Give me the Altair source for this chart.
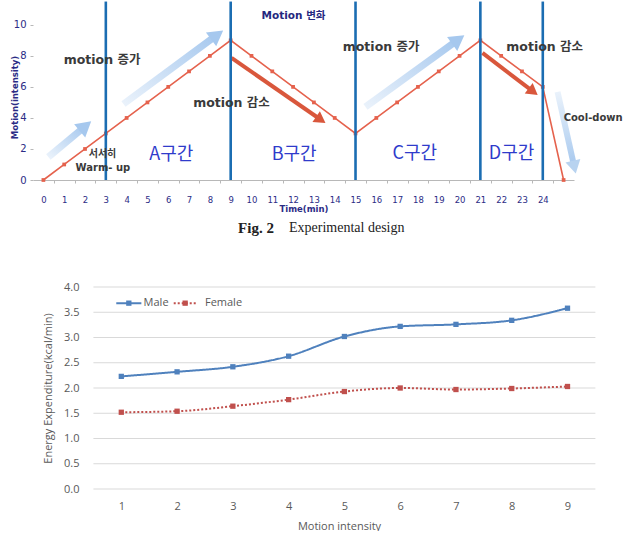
import math
import altair as alt
import pandas as pd

# ---------------- upper panel: exercise protocol ----------------
minutes = list(range(26))
intensity = [0, 1, 2, 3, 4, 5, 6, 7, 8, 9, 8, 7, 6, 5, 4, 3, 4, 5, 6, 7, 8, 9, 8, 7, 6, 0]
phase_bounds = [3, 9, 15, 21, 24]
phase_names = ["A구간", "B구간", "C구간", "D구간"]
phase_name_x = [6.15, 12.05, 17.85, 22.5]
phase_name_y = [1.6, 1.6, 1.65, 1.65]

note_text = ["motion 증가", "motion 감소", "motion 증가", "motion 감소"]
note_x = [2.82, 9.04, 16.23, 24.09]
note_y = [7.74, 4.97, 8.55, 8.55]

warm_text = ["서서히", "Warm- up"]
warm_x = [2.84, 2.86]
warm_y = [1.68, 0.77]

# rising arrows (light blue), cool-down arrow, and falling arrows (red)
up_x1 = [0.24, 3.85, 15.48]
up_y1 = [1.48, 4.90, 4.71]
up_x2 = [2.26, 8.60, 20.19]
up_y2 = [3.74, 9.60, 9.29]
cool_x1 = [24.71]
cool_y1 = [5.68]
cool_x2 = [25.58]
cool_y2 = [0.45]
down_x1 = [9.04, 21.10]
down_y1 = [7.87, 8.19]
down_x2 = [13.55, 23.75]
down_y2 = [3.68, 5.48]

X_DOM = [-0.5, 25.5]
Y_DOM = [0, 11.6]
W_TOP, H_TOP = 541, 180
PX = W_TOP / (X_DOM[1] - X_DOM[0])
PY = H_TOP / (Y_DOM[1] - Y_DOM[0])

NAVY = "#2b2b85"
CJK = "Noto Sans CJK KR"
MIXED = "DejaVu Sans, Noto Sans CJK KR"

xs_top = alt.Scale(domain=X_DOM, nice=False, zero=False)
ys_top = alt.Scale(domain=Y_DOM, nice=False)
x_axis_top = alt.Axis(
    values=list(range(25)), grid=False, domainColor="#b8b8b8", tickColor="#b8b8b8",
    tickSize=3, tickOffset=PX / 2, labelOffset=-PX / 2, labelFont="DejaVu Sans",
    labelFontSize=8.5, labelColor=NAVY, labelPadding=12, title="Time(min)",
    titleFont="DejaVu Sans", titleFontSize=8.5, titleFontWeight="bold",
    titleColor=NAVY, titlePadding=1,
)
y_axis_top = alt.Axis(
    values=[0, 2, 4, 6, 8, 10], grid=False, domain=False, tickColor="#b8b8b8",
    tickSize=3, labelFont="DejaVu Sans", labelFontSize=10, labelColor=NAVY,
    labelPadding=4, title="Motion(intensity)", titleFont="DejaVu Sans",
    titleFontSize=8.5, titleFontWeight="bold", titleColor=NAVY,
    titleAngle=270, titleBaseline="middle", titleX=-18.6, titleY=97,
)
TX = alt.X("x:Q", scale=xs_top, axis=x_axis_top)
TY = alt.Y("y:Q", scale=ys_top, axis=y_axis_top)


def arrow_frames(x1, y1, x2, y2, head_len):
    shafts, heads = [], []
    for a, b, c, d in zip(x1, y1, x2, y2):
        dxp = (c - a) * PX
        dyp = -(d - b) * PY
        n = math.hypot(dxp, dyp)
        ux, uy = dxp / n, dyp / n
        hx = c - (head_len / 2) * ux / PX
        hy = d + (head_len / 2) * uy / PY
        ang = math.degrees(math.atan2(dyp, dxp)) % 360
        shafts.append({"x": a, "y": b, "x2": hx, "y2": hy})
        heads.append({"x": hx, "y": hy, "angle": ang})
    return pd.DataFrame(shafts), pd.DataFrame(heads)


up_shaft, up_head = arrow_frames(up_x1, up_y1, up_x2, up_y2, 13)
cool_shaft, cool_head = arrow_frames(cool_x1, cool_y1, cool_x2, cool_y2, 12)
dn_shaft, dn_head = arrow_frames(down_x1, down_y1, down_x2, down_y2, 11)

protocol = pd.DataFrame({"x": minutes, "y": intensity})
bounds_df = pd.DataFrame({"x": phase_bounds, "y": [0] * 5, "y2": [11.5] * 5})

PALE, SKY = "#eaf2fb", "#a6c8ee"
rise_fade = alt.LinearGradient(
    gradient="linear", x1=0, y1=1, x2=1, y2=0,
    stops=[alt.GradientStop(offset=0, color=PALE), alt.GradientStop(offset=1, color=SKY)],
)
fall_fade = alt.LinearGradient(
    gradient="linear", x1=0, y1=0, x2=0, y2=1,
    stops=[alt.GradientStop(offset=0, color=PALE), alt.GradientStop(offset=1, color=SKY)],
)

up_arrow_shafts = alt.Chart(up_shaft).mark_rule(
    stroke=rise_fade, strokeWidth=7, strokeCap="butt"
).encode(x=TX, y=TY, x2="x2:Q", y2="y2:Q")
up_arrow_heads = alt.Chart(up_head).mark_point(
    shape="triangle-right", filled=True, size=300, color=SKY, opacity=1
).encode(x=TX, y=TY, angle=alt.Angle("angle:Q", scale=None))
cool_arrow_shaft = alt.Chart(cool_shaft).mark_rule(
    stroke=fall_fade, strokeWidth=6, strokeCap="butt"
).encode(x=TX, y=TY, x2="x2:Q", y2="y2:Q")
cool_arrow_head = alt.Chart(cool_head).mark_point(
    shape="triangle-right", filled=True, size=230, color="#b8d3f0", opacity=1
).encode(x=TX, y=TY, angle=alt.Angle("angle:Q", scale=None))
dn_arrow_shafts = alt.Chart(dn_shaft).mark_rule(
    color="#d9573c", strokeWidth=4, strokeCap="butt"
).encode(x=TX, y=TY, x2="x2:Q", y2="y2:Q")
dn_arrow_heads = alt.Chart(dn_head).mark_point(
    shape="triangle-right", filled=True, size=170, color="#d9573c", opacity=1
).encode(x=TX, y=TY, angle=alt.Angle("angle:Q", scale=None))

protocol_line = alt.Chart(protocol).mark_line(
    color="#e5624d", strokeWidth=1.6,
    point=alt.OverlayMarkDef(shape="square", size=14, filled=True, color="#e5624d"),
).encode(x=TX, y=TY)

phase_rules = alt.Chart(bounds_df).mark_rule(color="#1b6db2", strokeWidth=2.6).encode(
    x=TX, y=TY, y2="y2:Q"
)

phase_labels = alt.Chart(
    pd.DataFrame({"x": phase_name_x, "y": phase_name_y, "label": phase_names})
).mark_text(font=CJK, fontSize=18, color="#2f3bcb").encode(x=TX, y=TY, text="label:N")

notes = alt.Chart(
    pd.DataFrame({"x": note_x, "y": note_y, "label": note_text})
).mark_text(font=MIXED, fontSize=12.5, fontWeight="bold", color="#3a3a3a").encode(
    x=TX, y=TY, text="label:N"
)

warm = alt.Chart(
    pd.DataFrame({"x": warm_x, "y": warm_y, "label": warm_text})
).mark_text(font=MIXED, fontSize=10, fontWeight="bold", color="#3a3a3a").encode(
    x=TX, y=TY, text="label:N"
)

change_title = alt.Chart(
    pd.DataFrame({"x": [12.02], "y": [10.58], "label": ["Motion 변화"]})
).mark_text(font=MIXED, fontSize=10.5, fontWeight="bold", color="#25287f").encode(
    x=TX, y=TY, text="label:N"
)

cool = alt.Chart(
    pd.DataFrame({"x": [26.42], "y": [4.0], "label": ["Cool-down"]})
).mark_text(font="DejaVu Sans", fontSize=10, fontWeight="bold", color="#3a3a3a").encode(
    x=TX, y=TY, text="label:N"
)

caption_bold = alt.Chart(pd.DataFrame({"t": ["Fig.  2"]})).mark_text(
    font="Liberation Serif", fontSize=15, fontWeight="bold", color="#222222", align="center"
).encode(x=alt.value(223), y=alt.value(228), text="t:N")
caption_rest = alt.Chart(pd.DataFrame({"t": ["Experimental  design"]})).mark_text(
    font="Liberation Serif", fontSize=14, color="#222222", align="left"
).encode(x=alt.value(256), y=alt.value(228), text="t:N")

top = alt.layer(
    up_arrow_shafts, up_arrow_heads, cool_arrow_shaft, cool_arrow_head,
    dn_arrow_shafts, dn_arrow_heads, protocol_line, phase_rules, phase_labels,
    notes, warm, change_title, cool, caption_bold, caption_rest,
).properties(width=W_TOP, height=H_TOP)

# ---------------- lower panel: energy expenditure ----------------
levels = [1, 2, 3, 4, 5, 6, 7, 8, 9]
male = [2.23, 2.32, 2.42, 2.63, 3.02, 3.22, 3.26, 3.34, 3.58]
female = [1.52, 1.54, 1.64, 1.77, 1.93, 2.00, 1.97, 1.99, 2.03]
grid_values = [0, 0.5, 1.0, 1.5, 2.0, 2.5, 3.0, 3.5, 4.0]
series_names = ["Male", "Female"]
series_colors = ["#4f81bd", "#c0504d"]
series_dash = [[1, 0], [2, 2]]

# legend key placement (in the panel's own x / y units)
key_line_x1 = [0.91, 1.94]
key_line_x2 = [1.36, 2.35]
key_mark_x = [1.135, 2.145]
key_text_x = [1.40, 2.50]
key_y = 3.68

GRAY = "#595959"
W_BOT, H_BOT = 562.4, 202
xs_bot = alt.Scale(domain=[-0.583, 9.5], nice=False, zero=False)
ys_bot = alt.Scale(domain=[0, 4], nice=False)
x_axis_bot = alt.Axis(
    values=levels, grid=False, domain=False, ticks=False, labelFont="Open Sans",
    labelFontSize=11, labelColor=GRAY, labelPadding=11, title="Motion intensity",
    titleFont="Open Sans", titleFontSize=11, titleFontWeight="normal",
    titleColor=GRAY, titlePadding=9, titleX=306,
)
y_axis_bot = alt.Axis(
    values=grid_values, format=".1f", grid=False, domain=False, ticks=False,
    labelFont="Open Sans", labelFontSize=11, labelColor=GRAY, labelPadding=-46,
    title="Energy Expenditure(kcal/min)", titleFont="Open Sans", titleFontSize=11,
    titleFontWeight="normal", titleColor=GRAY, titleAngle=270,
    titleBaseline="middle", titleX=15, titleY=101,
)
BX = alt.X("x:Q", scale=xs_bot, axis=x_axis_bot)
BY = alt.Y("y:Q", scale=ys_bot, axis=y_axis_bot)
SEX_COLOR = alt.Color("sex:N", scale=alt.Scale(domain=series_names, range=series_colors),
                      legend=None)
SEX_DASH = alt.StrokeDash("sex:N", scale=alt.Scale(domain=series_names, range=series_dash),
                          legend=None)

grid_df = pd.DataFrame({"x": [0.5] * len(grid_values), "x2": [9.5] * len(grid_values),
                        "y": grid_values})
gridlines = alt.Chart(grid_df).mark_rule(color="#d9d9d9", strokeWidth=1).encode(
    x=BX, x2="x2:Q", y=BY
)

energy = pd.DataFrame({
    "x": levels + levels,
    "y": male + female,
    "sex": ["Male"] * 9 + ["Female"] * 9,
})
series = alt.Chart(energy).mark_line(
    strokeWidth=2, interpolate="monotone",
    point=alt.OverlayMarkDef(shape="square", size=28, filled=True),
).encode(x=BX, y=BY, color=SEX_COLOR, strokeDash=SEX_DASH)

key_df = pd.DataFrame({
    "sex": series_names, "x": key_line_x1, "x2": key_line_x2,
    "xm": key_mark_x, "xt": key_text_x, "y": [key_y] * 2,
})
key_lines = alt.Chart(key_df).mark_rule(strokeWidth=2).encode(
    x=BX, x2="x2:Q", y=BY, color=SEX_COLOR, strokeDash=SEX_DASH
)
key_marks = alt.Chart(key_df).mark_point(shape="square", size=28, filled=True, opacity=1).encode(
    x=alt.X("xm:Q", scale=xs_bot, axis=x_axis_bot), y=BY, color=SEX_COLOR
)
key_text = alt.Chart(key_df).mark_text(
    font="Open Sans", fontSize=11, color=GRAY, align="left", baseline="middle"
).encode(x=alt.X("xt:Q", scale=xs_bot, axis=x_axis_bot), y=BY, text="sex:N")

bottom = alt.layer(gridlines, series, key_lines, key_marks, key_text).properties(
    width=W_BOT, height=H_BOT
)

chart = alt.vconcat(top, bottom, spacing=45).properties(
    padding={"left": 10, "top": 0, "right": 0, "bottom": 0}
).configure_view(stroke=None)

chart.save("out.html", embed_options={"renderer": "svg", "actions": False})
